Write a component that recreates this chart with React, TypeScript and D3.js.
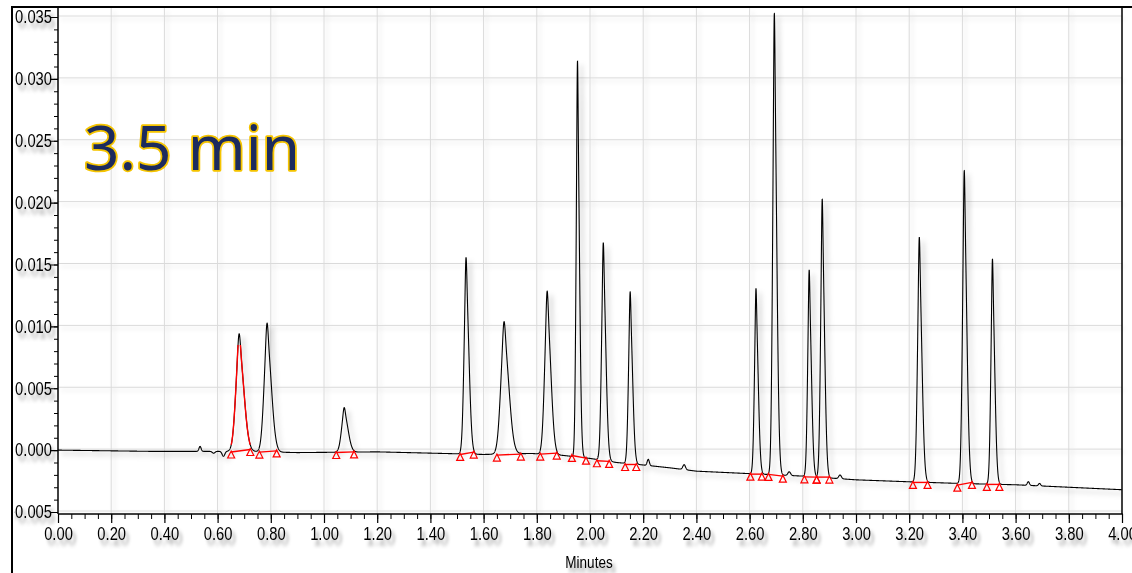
import { useEffect, useRef } from "react";
import * as d3 from "d3";

// Retention time (min), height above baseline (AU), width (sigma, min)
const peakTimes = [0.681, 0.786, 1.076, 1.534, 1.677, 1.839, 1.953, 2.05, 2.151, 2.624, 2.693, 2.824, 2.873, 3.238, 3.407, 3.513];
const peakHeights = [0.0095, 0.0104, 0.0036, 0.0159, 0.0107, 0.0132, 0.032, 0.0176, 0.0139, 0.015, 0.0373, 0.0167, 0.0225, 0.0198, 0.0253, 0.0182];
const peakWidths = [0.015, 0.0135, 0.012, 0.009, 0.015, 0.0115, 0.0062, 0.008, 0.0076, 0.007, 0.0075, 0.007, 0.0073, 0.0082, 0.008, 0.0072];

// small bumps / dips on the baseline
const bumpTimes = [0.534, 0.585, 0.622, 2.219, 2.354, 2.749, 2.94, 3.648, 3.69];
const bumpHeights = [0.0004, -0.00015, -0.0004, 0.0005, 0.0004, 0.0003, 0.0003, 0.0003, 0.0002];
const bumpWidths = [0.004, 0.005, 0.005, 0.004, 0.005, 0.005, 0.005, 0.004, 0.004];

// drifting baseline read at a few times
const blTimes = [0, 0.35, 0.5, 0.7, 0.9, 1.2, 1.45, 1.6, 1.78, 1.9, 2.0, 2.1, 2.2, 2.3, 2.4, 2.6, 2.8, 3.0, 3.2, 3.4, 3.6, 3.8, 4.0];
const blValues = [0, -0.0001, -0.0001, -0.0001, -0.0002, -0.00014, -0.00027, -0.00035, -0.00027, -0.00043, -0.00067, -0.001, -0.0012, -0.00143, -0.0017, -0.0019, -0.0021, -0.0024, -0.00256, -0.0027, -0.0028, -0.003, -0.0032];

// integration start / end markers
const intStart = [0.651, 0.757, 1.046, 1.512, 1.65, 1.813, 1.932, 2.026, 2.132, 2.603, 2.671, 2.806, 2.852, 3.214, 3.381, 3.492];
const intEnd = [0.723, 0.822, 1.113, 1.563, 1.74, 1.875, 1.985, 2.072, 2.174, 2.646, 2.725, 2.852, 2.9, 3.269, 3.436, 3.539];
const intStartVal = [-0.00015, -0.00016, -0.00019, -0.00035, -0.0004, -0.00032, -0.00043, -0.00086, -0.00116, -0.00194, -0.00196, -0.00216, -0.00218, -0.00261, -0.00283, -0.00277];
const intEndVal = [0.00005, -0.00006, -0.00014, -0.00016, -0.00032, -0.00024, -0.00065, -0.00091, -0.00116, -0.00194, -0.0021, -0.00218, -0.00218, -0.00261, -0.00261, -0.00277];

const xTicks = [0, 0.2, 0.4, 0.6, 0.8, 1.0, 1.2, 1.4, 1.6, 1.8, 2.0, 2.2, 2.4, 2.6, 2.8, 3.0, 3.2, 3.4, 3.6, 3.8, 4.0];
const yTicks = [-0.005, 0, 0.005, 0.01, 0.015, 0.02, 0.025, 0.03, 0.035];

const title = "3.5 min";
const xLabel = "Minutes";

// Liberation Sans squeezed horizontally stands in for Arial Narrow
const labelFont = "'Liberation Sans', Arial, sans-serif";
const narrow = 0.82;

export default function App() {
  const svgRef = useRef<SVGSVGElement>(null);

  useEffect(() => {
    const W = 1132;
    const H = 573;
    const plot = { left: 58, right: 1122, top: 8, bottom: 514 };

    const svg = d3.select(svgRef.current);
    svg.selectAll("*").remove();
    svg.attr("width", W).attr("height", H);

    const x = d3.scaleLinear().domain([0, 4]).range([plot.left, plot.right]);
    const y = d3.scaleLinear().domain([-0.005, 0.035]).range([512, 17]);

    const defs = svg.append("defs");
    const addShadow = (id: string, dx: number, dy: number, sd: number, op: number) =>
      defs
        .append("filter")
        .attr("id", id)
        .attr("x", "-20%")
        .attr("y", "-20%")
        .attr("width", "150%")
        .attr("height", "150%")
        .append("feDropShadow")
        .attr("dx", dx)
        .attr("dy", dy)
        .attr("stdDeviation", sd)
        .attr("flood-color", "#000")
        .attr("flood-opacity", op);
    addShadow("txtShadow", 4, 5, 2.2, 0.4);
    addShadow("gridShadow", 3, 3, 2, 0.12);
    addShadow("lineShadow", 4, 4, 2.5, 0.25);

    defs
      .append("clipPath")
      .attr("id", "plotClip")
      .append("rect")
      .attr("x", plot.left)
      .attr("y", plot.top)
      .attr("width", plot.right - plot.left)
      .attr("height", plot.bottom - plot.top);
    defs
      .append("clipPath")
      .attr("id", "labelClip")
      .append("rect")
      .attr("x", 14.5)
      .attr("y", 0)
      .attr("width", W)
      .attr("height", H);
    defs
      .append("clipPath")
      .attr("id", "redClip")
      .append("rect")
      .attr("x", plot.left)
      .attr("y", y(0.0085))
      .attr("width", plot.right - plot.left)
      .attr("height", plot.bottom - y(0.0085));

    svg.append("rect").attr("width", W).attr("height", H).attr("fill", "#fff");

    // Grid
    const grid = svg.append("g").attr("filter", "url(#gridShadow)");
    grid
      .selectAll("line.v")
      .data(xTicks.filter((d) => d > 0 && d < 4))
      .enter()
      .append("line")
      .attr("x1", (d) => x(d))
      .attr("x2", (d) => x(d))
      .attr("y1", plot.top)
      .attr("y2", plot.bottom)
      .attr("stroke", "#dadada")
      .attr("stroke-width", 1);
    grid
      .selectAll("line.h")
      .data(yTicks)
      .enter()
      .append("line")
      .attr("x1", plot.left)
      .attr("x2", plot.right)
      .attr("y1", (d) => y(d) - 1)
      .attr("y2", (d) => y(d) - 1)
      .attr("stroke", "#dadada")
      .attr("stroke-width", 1);

    // Signal
    const baseline = d3.scaleLinear().domain(blTimes).range(blValues).clamp(true);
    const gauss = (t: number, c: number, s: number) => Math.exp(-0.5 * ((t - c) / s) ** 2);
    const shape = (t: number, c: number, s: number) => {
      const sd = t < c ? s * 0.85 : s * 1.2;
      return 0.85 * gauss(t, c, sd) + 0.15 * gauss(t, c, s * 0.3);
    };
    const signal = (t: number) => {
      let v = baseline(t);
      peakTimes.forEach((c, i) => {
        v += peakHeights[i] * shape(t, c, peakWidths[i]);
      });
      bumpTimes.forEach((c, i) => {
        v += bumpHeights[i] * gauss(t, c, bumpWidths[i]);
      });
      return v;
    };
    const times = d3.range(0, 4.0001, 0.0004);
    const pts: [number, number][] = times.map((t) => [t, signal(t)]);
    const line = d3
      .line<[number, number]>()
      .x((d) => x(d[0]))
      .y((d) => y(d[1]));

    const traceG = svg.append("g").attr("clip-path", "url(#plotClip)");
    traceG
      .append("path")
      .attr("d", line(pts))
      .attr("fill", "none")
      .attr("stroke", "#000")
      .attr("stroke-width", 1.1)
      .attr("filter", "url(#lineShadow)");

    // red fitted first peak
    const redPts = pts.filter((d) => d[0] >= intStart[0] && d[0] <= intEnd[0]);
    traceG
      .append("g")
      .attr("clip-path", "url(#redClip)")
      .append("path")
      .attr("d", line(redPts))
      .attr("fill", "none")
      .attr("stroke", "#ff0000")
      .attr("stroke-width", 1.4);

    // integration baselines
    const intG = traceG.append("g");
    intStart.forEach((s, i) => {
      intG
        .append("line")
        .attr("x1", x(s))
        .attr("y1", y(intStartVal[i]))
        .attr("x2", x(intEnd[i]))
        .attr("y2", y(intEndVal[i]))
        .attr("stroke", "#ff0000")
        .attr("stroke-width", 1.4);
    });
    const marks: [number, number][] = [
      ...intStart.map((s, i) => [s, intStartVal[i]] as [number, number]),
      ...intEnd.map((s, i) => [s, intEndVal[i]] as [number, number]),
    ];
    intG
      .selectAll("path.tri")
      .data(marks)
      .enter()
      .append("path")
      .attr("d", (d) => {
        const px = x(d[0]);
        const py = y(d[1]);
        return `M${px},${py - 1}L${px + 3.5},${py + 6}L${px - 3.5},${py + 6}Z`;
      })
      .attr("fill", "none")
      .attr("stroke", "#ff0000")
      .attr("stroke-width", 1.2);

    // Frame
    const frame = svg.append("g").attr("stroke", "#000");
    frame.append("line").attr("x1", 12).attr("x2", 12).attr("y1", 6).attr("y2", H).attr("stroke-width", 2);
    frame.append("line").attr("x1", 11).attr("x2", W).attr("y1", 7).attr("y2", 7).attr("stroke-width", 2);
    frame.append("line").attr("x1", plot.right).attr("x2", plot.right).attr("y1", 7).attr("y2", plot.bottom).attr("stroke-width", 1.5);
    frame.append("line").attr("x1", plot.left).attr("x2", plot.right + 0.75).attr("y1", plot.bottom).attr("y2", plot.bottom).attr("stroke-width", 1.5);
    frame.append("line").attr("x1", plot.left).attr("x2", plot.left).attr("y1", 7).attr("y2", plot.bottom).attr("stroke-width", 1.5);

    // Y axis
    const yMinor = d3.range(-5, 36).map((d) => d / 1000);
    svg
      .append("g")
      .attr("transform", `translate(${plot.left},0)`)
      .call(d3.axisLeft(y).tickValues(yMinor).tickSize(4).tickFormat(() => ""))
      .call((g) => g.select(".domain").remove());
    const yAx = svg
      .append("g")
      .attr("clip-path", "url(#labelClip)")
      .append("g")
      .attr("transform", `translate(${plot.left},0)`)
      .call(d3.axisLeft(y).tickValues(yTicks).tickSize(7).tickFormat(d3.format(".3f")));
    yAx.select(".domain").remove();
    yAx.selectAll(".tick line").attr("stroke", "#000").attr("stroke-width", 1.2);
    yAx
      .selectAll(".tick text")
      .attr("x", -6 / narrow)
      .attr("transform", `scale(${narrow},1)`)
      .attr("fill", "#000")
      .attr("font-size", 18)
      .attr("font-family", labelFont)
      .attr("filter", "url(#txtShadow)");

    // X axis
    const xMinor = d3.range(0, 81).map((d) => d * 0.05);
    svg
      .append("g")
      .attr("transform", `translate(0,${plot.bottom})`)
      .call(d3.axisBottom(x).tickValues(xMinor).tickSize(5).tickFormat(() => ""))
      .call((g) => g.select(".domain").remove());
    const xAx = svg
      .append("g")
      .attr("transform", `translate(0,${plot.bottom})`)
      .call(d3.axisBottom(x).tickValues(xTicks).tickSize(9).tickPadding(4).tickFormat(d3.format(".2f")));
    xAx.select(".domain").remove();
    xAx.selectAll(".tick line").attr("stroke", "#000").attr("stroke-width", 1.2);
    xAx
      .selectAll(".tick text")
      .attr("transform", `scale(${narrow},1)`)
      .attr("fill", "#000")
      .attr("font-size", 18)
      .attr("font-family", labelFont)
      .attr("filter", "url(#txtShadow)");

    svg
      .append("text")
      .attr("transform", `translate(589,568) scale(${narrow},1)`)
      .attr("text-anchor", "middle")
      .attr("font-size", 16.5)
      .attr("font-family", labelFont)
      .attr("fill", "#000")
      .attr("filter", "url(#txtShadow)")
      .text(xLabel);

    // Title
    svg
      .append("text")
      .attr("x", 84)
      .attr("y", 170)
      .attr("font-size", 62)
      .attr("font-family", "'Noto Sans', 'Open Sans', sans-serif")
      .attr("fill", "#1c2b5e")
      .attr("stroke", "#f5c400")
      .attr("stroke-width", 3.5)
      .attr("stroke-linejoin", "round")
      .attr("paint-order", "stroke")
      .text(title);
  }, []);

  return (
    <div style={{ position: "absolute", left: 0, top: 0 }}>
      <svg ref={svgRef} style={{ display: "block" }} />
    </div>
  );
}
